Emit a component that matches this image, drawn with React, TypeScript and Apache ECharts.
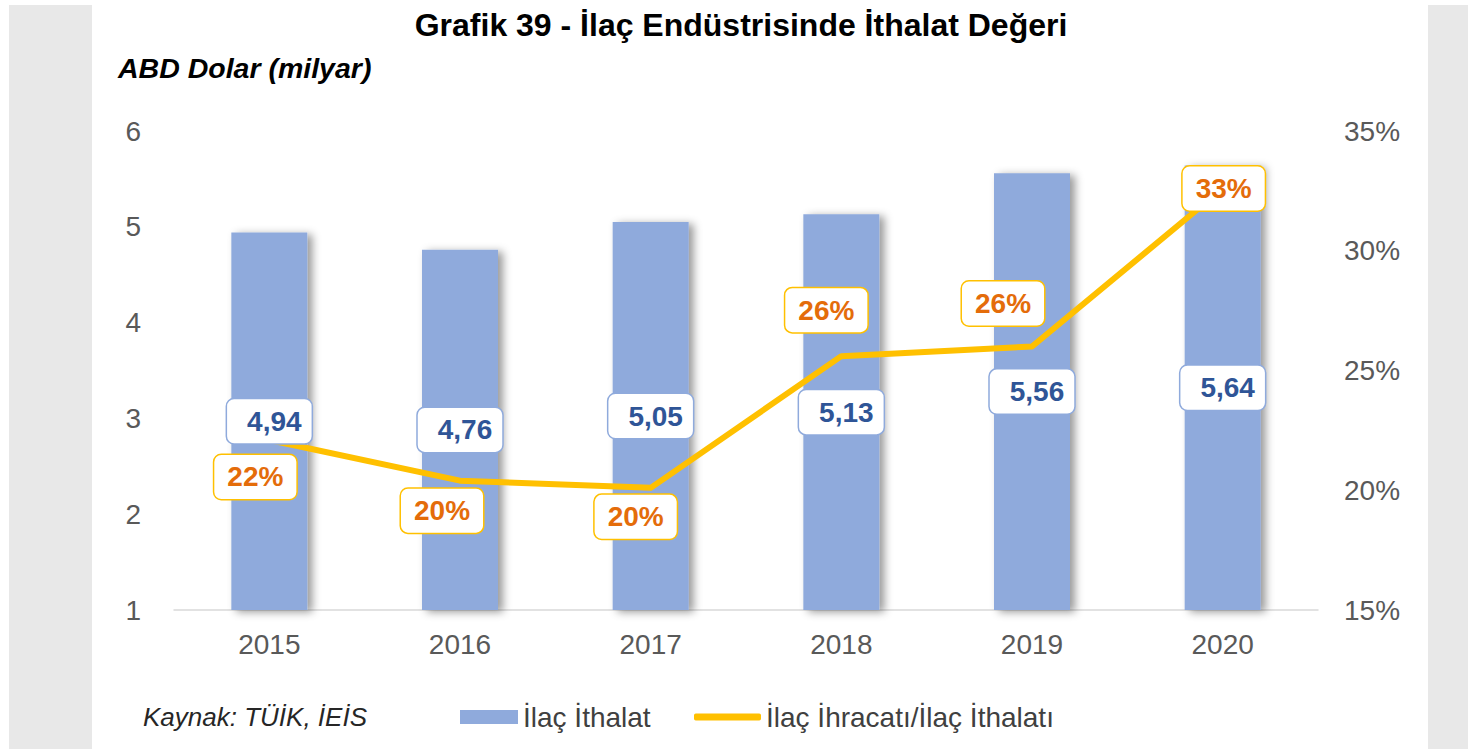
import React, { useEffect, useRef } from "react";
import * as echarts from "echarts";

const categories = ["2015", "2016", "2017", "2018", "2019", "2020"];
const importValues = [4.94, 4.76, 5.05, 5.13, 5.56, 5.64];
const ratioValues = [22.1, 20.4, 20.1, 25.6, 26.0, 32.6];
const leftAxisRange = { min: 1, max: 6, interval: 1 };
const rightAxisRange = { min: 15, max: 35, interval: 5 };

const barName = "İlaç İthalat";
const lineName = "İlaç İhracatı/İlaç İthalatı";

const FONT = "'Liberation Sans', Arial, sans-serif";
const lineLabelOffsets = [
  [-14, 37],
  [-18, 30],
  [-15, 29],
  [-15, -46],
  [-29, -43],
  [1, 0],
];

function buildOption() {
  return {
    animation: false,
    backgroundColor: "#ffffff",
    grid: { left: 174, right: 150, top: 131, bottom: 139 },
    graphic: [
      { type: "rect", shape: { x: 9, y: 5, width: 83, height: 744 }, style: { fill: "#e8e8e8" }, silent: true },
      { type: "rect", shape: { x: 1428, y: 5, width: 40, height: 744 }, style: { fill: "#e8e8e8" }, silent: true },
      {
        type: "text",
        x: 741,
        y: 25,
        style: {
          text: "Grafik 39 - İlaç Endüstrisinde İthalat Değeri",
          font: `bold 32px ${FONT}`,
          fill: "#000000",
          textAlign: "center",
          textVerticalAlign: "middle",
        },
      },
      {
        type: "text",
        x: 118,
        y: 68,
        style: {
          text: "ABD Dolar (milyar)",
          font: `italic bold 28.5px ${FONT}`,
          fill: "#000000",
          textAlign: "left",
          textVerticalAlign: "middle",
        },
      },
      {
        type: "text",
        x: 143,
        y: 717,
        style: {
          text: "Kaynak: TÜİK, İEİS",
          font: `italic 26px ${FONT}`,
          fill: "#262626",
          textAlign: "left",
          textVerticalAlign: "middle",
        },
      },
    ],
    legend: [
      {
        left: 455,
        top: 698,
        itemWidth: 58,
        itemHeight: 14,
        selectedMode: false,
        data: [{ name: barName, icon: "rect" }],
        textStyle: { fontFamily: FONT, fontSize: 28, color: "#404040" },
      },
      {
        left: 689,
        top: 698,
        itemWidth: 67,
        itemHeight: 7,
        selectedMode: false,
        data: [{ name: lineName, icon: "roundRect", itemStyle: { color: "#ffc000" } }],
        textStyle: { fontFamily: FONT, fontSize: 28, color: "#404040" },
      },
    ],
    xAxis: {
      type: "category",
      data: categories,
      axisLine: { show: true, lineStyle: { color: "#d9d9d9", width: 1.5 } },
      axisTick: { show: false },
      axisLabel: { fontFamily: FONT, fontSize: 28, color: "#595959", margin: 20 },
      splitLine: { show: false },
    },
    yAxis: [
      {
        type: "value",
        min: leftAxisRange.min,
        max: leftAxisRange.max,
        interval: leftAxisRange.interval,
        axisLine: { show: false },
        axisTick: { show: false },
        splitLine: { show: false },
        axisLabel: { fontFamily: FONT, fontSize: 28, color: "#595959", margin: 33 },
      },
      {
        type: "value",
        position: "right",
        min: rightAxisRange.min,
        max: rightAxisRange.max,
        interval: rightAxisRange.interval,
        axisLine: { show: false },
        axisTick: { show: false },
        splitLine: { show: false },
        axisLabel: { fontFamily: FONT, fontSize: 28, color: "#595959", margin: 26, formatter: "{value}%" },
      },
    ],
    series: [
      {
        name: barName,
        type: "bar",
        yAxisIndex: 0,
        z: 2,
        barWidth: 76,
        barGap: "-100%",
        data: importValues,
        itemStyle: {
          color: "#8faadc",
          shadowColor: "rgba(0,0,0,0.4)",
          shadowBlur: 8,
          shadowOffsetX: 5,
          shadowOffsetY: 2,
        },
        label: { show: false },
      },
      {
        name: lineName,
        type: "line",
        yAxisIndex: 1,
        z: 3,
        data: ratioValues.map((v, i) => ({
          value: v,
          label: { offset: lineLabelOffsets[i] },
        })),
        symbol: "circle",
        symbolSize: 1,
        showSymbol: true,
        itemStyle: { color: "#ffc000" },
        lineStyle: { color: "#ffc000", width: 6, join: "round", cap: "round" },
        label: {
          show: true,
          position: "inside",
          formatter: (p: any) => `${Math.round(p.value)}%`,
          fontFamily: FONT,
          fontSize: 28,
          fontWeight: "bold",
          color: "#e46c0a",
          backgroundColor: "#ffffff",
          borderColor: "#ffc000",
          borderWidth: 1.5,
          borderRadius: 7,
          padding: [8, 13, 8, 13],
        },
      },
      {
        name: "labels",
        type: "bar",
        yAxisIndex: 0,
        z: 4,
        barWidth: 76,
        barGap: "-100%",
        data: importValues,
        itemStyle: { color: "rgba(0,0,0,0)" },
        silent: true,
        label: {
          show: true,
          position: "inside",
          formatter: (p: any) => Number(p.value).toFixed(2).replace(".", ","),
          fontFamily: FONT,
          fontSize: 28,
          fontWeight: "bold",
          color: "#2f5597",
          backgroundColor: "#ffffff",
          borderColor: "#8faadc",
          borderWidth: 1.5,
          borderRadius: 7,
          padding: [8, 10, 8, 20],
        },
      },
    ],
  };
}

export default function App() {
  const ref = useRef<HTMLDivElement>(null);
  useEffect(() => {
    document.body.style.margin = "0";
    const chart = echarts.init(ref.current!, null, { renderer: "svg" });
    chart.setOption(buildOption() as any);
    return () => chart.dispose();
  }, []);
  return <div ref={ref} style={{ width: 1468, height: 749, background: "#ffffff" }} />;
}
